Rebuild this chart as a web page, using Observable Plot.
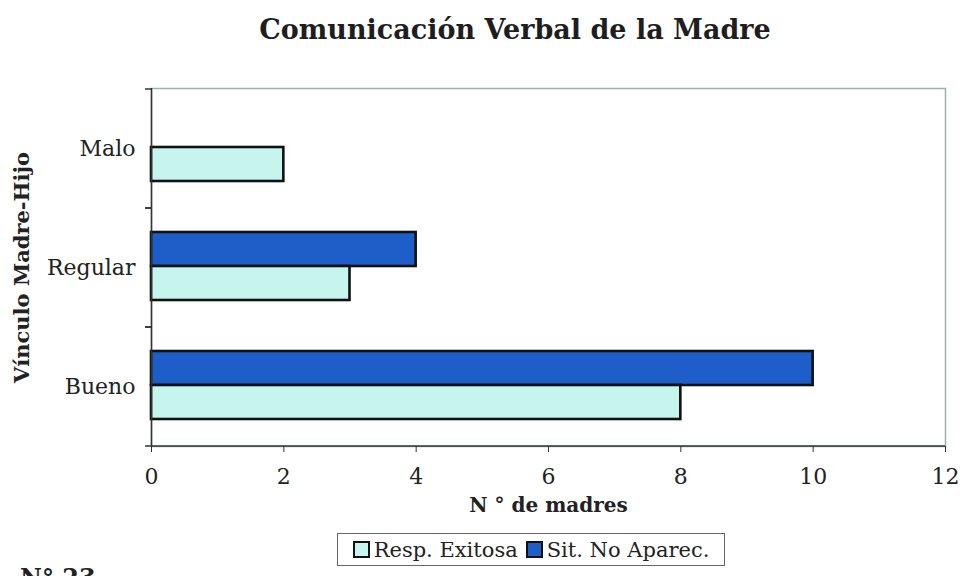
<!DOCTYPE html>
<html><head><meta charset="utf-8">
<script src="https://cdn.jsdelivr.net/npm/d3@7"></script>
<script src="https://cdn.jsdelivr.net/npm/@observablehq/plot@0.6"></script>
<style>
body{margin:0;background:#fff;font-family:"DejaVu Serif",serif;color:#222;width:968px;height:576px;overflow:hidden;position:relative}
#title{position:absolute;top:14px;left:0;width:1030px;text-align:center;font-weight:bold;font-size:27px;color:#1e1e1e;font-family:"DejaVu Serif",serif}
#chart{position:absolute;top:60px;left:0}
#legend{position:absolute;left:337px;top:533px;width:388px;height:33px;border:1px solid #666;box-sizing:border-box;display:flex;align-items:center;justify-content:center;gap:8px;font-size:21px;white-space:nowrap;font-family:"DejaVu Serif",serif;color:#222}
#legend .sw{display:inline-block;width:13px;height:13px;border:2px solid #111;margin-right:4px;vertical-align:-1px}
#foot{position:absolute;left:20px;top:563px;font-weight:bold;font-size:24px;color:#222;font-family:"DejaVu Serif",serif}
</style></head>
<body>
<div id="title">Comunicación Verbal de la Madre</div>
<div id="chart"></div>
<div id="legend"></div>
<div id="foot">N° 23</div>
<script>
const categories = ["Malo", "Regular", "Bueno"];
const seriesNames = ["Resp. Exitosa", "Sit. No Aparec."];
const respExitosa = [2, 3, 8];
const sitNoAparec = [0, 4, 10];
const xTicks = [0, 2, 4, 6, 8, 10, 12];
const xLabel = "N ° de madres";
const yLabel = "Vínculo Madre-Hijo";

const cyan = "#c6f5ee";
const blue = "#1d5ec8";

const data = categories.flatMap((c, i) => [
  {cat: c, serie: seriesNames[0], value: respExitosa[i]},
  {cat: c, serie: seriesNames[1], value: sitNoAparec[i]}
]);

const boundaryTicks = (index, scales, values, dims) => {
  const g = d3.create("svg:g").attr("stroke", "#333").attr("stroke-width", 1.5);
  const x0 = scales.x(0);
  const bw = scales.y.bandwidth ? scales.y.bandwidth() : 0;
  const ys = [];
  for (const c of categories) { ys.push(scales.y(c)); ys.push(scales.y(c) + bw); }
  for (const y of ys) g.append("line").attr("x1", x0 - 6).attr("x2", x0).attr("y1", y).attr("y2", y);
  const yb = dims.height - dims.marginBottom;
  g.append("line").attr("x1", x0).attr("x2", scales.x(12)).attr("y1", yb).attr("y2", yb);
  return g.node();
};

const plot = Plot.plot({
  width: 968, height: 465,
  marginTop: 28, marginLeft: 151, marginRight: 23, marginBottom: 79,
  style: {fontFamily: "DejaVu Serif", fontSize: "22px", color: "#222", background: "transparent"},
  x: {domain: [0, 12], label: null},
  y: {domain: categories, padding: 0, label: null},
  marks: [
    Plot.frame({stroke: "#9db3a8", strokeWidth: 1.5}),
    Plot.barX(data.filter(d => d.serie === seriesNames[1] && d.value > 0), {
      x: "value", y: "cat", fill: blue, stroke: "#111", strokeWidth: 2.6, insetTop: 24, insetBottom: 61
    }),
    Plot.barX(data.filter(d => d.serie === seriesNames[0] && d.value > 0), {
      x: "value", y: "cat", fill: cyan, stroke: "#111", strokeWidth: 2.6, insetTop: 58, insetBottom: 27
    }),
    Plot.ruleX([0], {stroke: "#333", strokeWidth: 1.5}),
    boundaryTicks,
    Plot.axisX(xTicks, {tickSize: 6, tickPadding: 16, fontSize: 22, label: null, stroke: "#333"}),
    Plot.axisY({tickSize: 0, tickPadding: 16, fontSize: 22, label: null}),
    Plot.text([xLabel], {text: d => d, frameAnchor: "bottom", dy: 65, fontWeight: "bold", fontSize: 20}),
    Plot.text([yLabel], {text: d => d, frameAnchor: "left", textAnchor: "middle", rotate: -90, dx: -129, fontWeight: "bold", fontSize: 21})
  ]
});
document.getElementById("chart").appendChild(plot);

const legend = document.getElementById("legend");
[[seriesNames[0], cyan], [seriesNames[1], blue]].forEach(([name, col]) => {
  const s = document.createElement("span");
  s.innerHTML = `<span class="sw" style="background:${col}"></span>${name}`;
  legend.appendChild(s);
});
</script>
</body></html>
